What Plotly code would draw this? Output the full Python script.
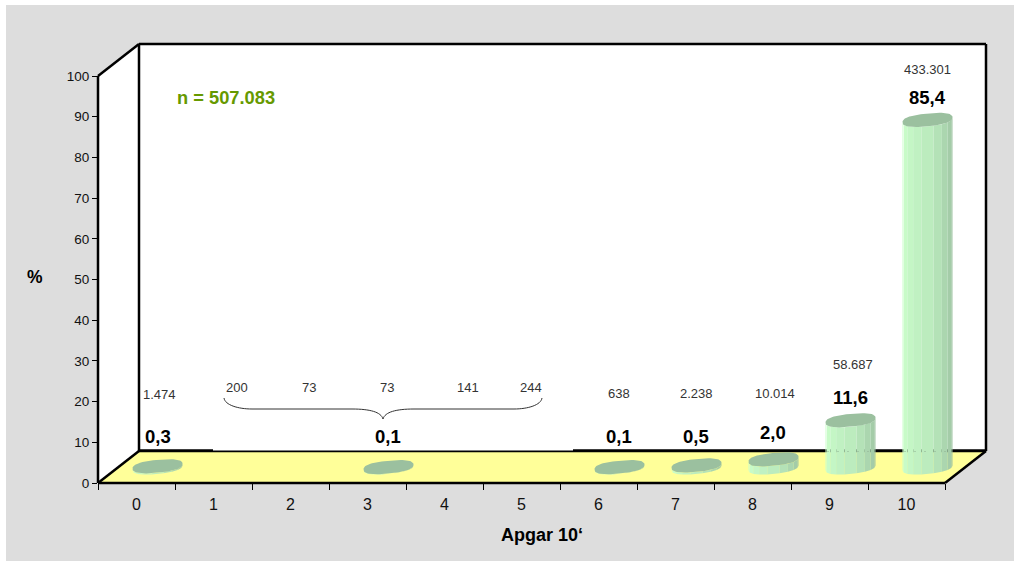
import numpy as np
import plotly.graph_objects as go

categories = ["0", "1", "2", "3", "4", "5", "6", "7", "8", "9", "10"]
bar_categories = [0, 3, 6, 7, 8, 9, 10]
bar_values = [0.3, 0.1, 0.1, 0.5, 2.0, 11.6, 85.4]
bar_labels = ["0,3", "0,1", "0,1", "0,5", "2,0", "11,6", "85,4"]
count_labels = ["1.474", "200", "73", "73", "141", "244", "638", "2.238", "10.014", "58.687", "433.301"]
y_ticks = list(range(0, 101, 10))

W, H = 1014, 561
L, R0, T0, B = 98, 945, 76, 483      # front plane of the chart box
R, T = 986, 44                       # back plane corner
PX_X = (R0 - L) / 11
PX_Y = (B - T0) / 100


def dx(px):
    return -0.5 + (px - L) / PX_X


def dy(py):
    return (B - py) / PX_Y


def fx(px):
    return (px - L) / (R - L)


def fy(py):
    return (B - py) / (B - T)


def poly(pts, fill=None, line=None, width=0, dash=None):
    d = dict(x=[dx(p[0]) for p in pts], y=[dy(p[1]) for p in pts], mode="lines",
             hoverinfo="skip", showlegend=False)
    if fill:
        d.update(fill="toself", fillcolor=fill)
    d["line"] = dict(color=line or "rgba(0,0,0,0)", width=width)
    if dash:
        d["line"]["dash"] = dash
    return go.Scatter(**d)


def seg(x0, y0, x1, y1, width=2.5):
    return dict(type="line", xref="paper", yref="paper", x0=fx(x0), y0=fy(y0), x1=fx(x1), y1=fy(y1),
                line=dict(color="#000000", width=width), layer="above")


fig = go.Figure()

# walls and floor
fig.add_trace(poly([(139, 44), (986, 44), (986, 451), (139, 451)], fill="#FFFFFF"))
fig.add_trace(poly([(98, 76), (139, 44), (139, 451), (98, 483)], fill="#FFFFFF"))
fig.add_trace(poly([(98, 483), (945, 483), (986, 451), (139, 451)], fill="#FFFF99"))
fig.add_trace(poly([(139, 450.7), (213, 450.7)], line="#000000", width=3))
fig.add_trace(poly([(213, 451.3), (573, 451.3)], line="#000000", width=1.8))
fig.add_trace(poly([(573, 450.7), (986, 450.7)], line="#000000", width=3))

# cylinders
BASE_PY = 467.5
RX, RY, TILT = 25, 6.4, 2.4
STRIPES = ["#CCFFCC", "#C8FBC8", "#C4F6C5", "#C0F1C2", "#BCECBE", "#B4E2B7", "#ABD6AF", "#A4CCA8", "#9EC4A2"]
TOP_COLOR = "#9BC09F"


def ell(cx, cy, t):
    c, s = np.cos(t), np.sin(t)
    c2 = np.sign(c) * abs(c) ** 0.8
    s2 = np.sign(s) * abs(s) ** 0.8
    return cx + RX * c2, cy + RY * s2 - TILT * c2


for cat, val in zip(bar_categories, bar_values):
    cx = L + (cat + 0.5) * PX_X + 21
    top_py = BASE_PY - val * PX_Y
    edges = np.linspace(np.pi, 0, len(STRIPES) + 1)
    for i, col in enumerate(STRIPES):
        ts = np.linspace(edges[i], edges[i + 1], 5)
        low = [ell(cx, BASE_PY, t) for t in ts]
        up = [ell(cx, top_py, t) for t in ts[::-1]]
        fig.add_trace(poly(low + up, fill=col))
    ts = np.linspace(0, 2 * np.pi, 72)
    fig.add_trace(poly([ell(cx, top_py, t) for t in ts], fill=TOP_COLOR))

# back wall line faintly visible through the tall bars
for cat in (9, 10):
    cx = L + (cat + 0.5) * PX_X + 21
    fig.add_trace(poly([(cx - 23, 451.5), (cx + 24, 451.5)], line="#8FAF90", width=1, dash="1px 9px"))


def P(px, py):
    return f"{dx(px):.4f},{dy(py):.4f}"


brace = (f"M {P(224,398)} C {P(225,405)} {P(238,409)} {P(252,409)} L {P(352,409)} "
         f"C {P(370,409)} {P(381,412)} {P(383,419)} C {P(385,412)} {P(396,409)} {P(414,409)} "
         f"L {P(514,409)} C {P(528,409)} {P(541,405)} {P(542,398)}")

annotations = []


def label(px, py, text, size, color="#000000"):
    annotations.append(dict(x=fx(px), y=fy(py), xref="paper", yref="paper", text=text, showarrow=False,
                            xanchor="center", yanchor="middle", font=dict(size=size, color=color)))


count_pos = [(159, 394), (237, 387), (309, 387), (387, 387), (468, 387), (531, 387),
             (619, 393), (696, 393), (775, 393), (853, 364), (927, 69)]
for txt, (px, py) in zip(count_labels, count_pos):
    label(px, py, txt, 13, "#333333")
value_pos = [(158, 436), (388, 436), (619, 436), (696, 436), (773, 432), (850, 397), (927, 97)]
for txt, (px, py) in zip(bar_labels, value_pos):
    label(px, py, f"<b>{txt}</b>", 18.5)
label(225.5, 97.5, "<b>n = 507.083</b>", 18.3, "#669900")
label(35, 277, "<b>%</b>", 17.5)
label(542, 535, "<b>Apgar 10‘</b>", 18)

shapes = [
    dict(type="rect", xref="paper", yref="paper", x0=fx(6), x1=fx(W + 2), y0=fy(H + 2), y1=fy(5),
         fillcolor="#DDDDDD", line=dict(width=0), layer="below"),
    dict(type="path", xref="x", yref="y", path=brace, line=dict(color="#333333", width=1)),
    seg(98, 76, 98, 483), seg(98, 483, 945, 483), seg(98, 76, 139, 44), seg(139, 44, 986, 44),
    seg(986, 44, 986, 451), seg(986, 451, 945, 483), seg(139, 44, 139, 451), seg(139, 451, 98, 483),
]

fig.update_layout(
    width=W, height=H,
    margin=dict(l=L, r=W - R, t=T, b=H - B, autoexpand=False),
    paper_bgcolor="#FFFFFF", plot_bgcolor="rgba(0,0,0,0)",
    font=dict(family="Liberation Sans, Arial, sans-serif", size=13.5, color="#111111"),
    showlegend=False,
    annotations=annotations,
    shapes=shapes,
    xaxis=dict(
        range=[dx(L), dx(R)], tickmode="array", tickvals=list(range(11)), ticktext=categories,
        ticks="", showgrid=False, zeroline=False, showline=False,
        ticklabelstandoff=10, tickfont=dict(size=16),
        minor=dict(tickmode="array", tickvals=[i - 0.5 for i in range(12)], ticks="outside",
                   ticklen=6, tickwidth=1.3, tickcolor="#000000", showgrid=False),
    ),
    yaxis=dict(
        range=[dy(B), dy(T)], tickmode="array", tickvals=y_ticks, ticks="outside", ticklen=5, tickwidth=1.3,
        tickcolor="#000000", showgrid=False, zeroline=False, showline=False, tickfont=dict(size=13.5),
    ),
)

fig.write_html("out.html", config=dict(displayModeBar=False), post_script="document.body.style.margin='0';")
